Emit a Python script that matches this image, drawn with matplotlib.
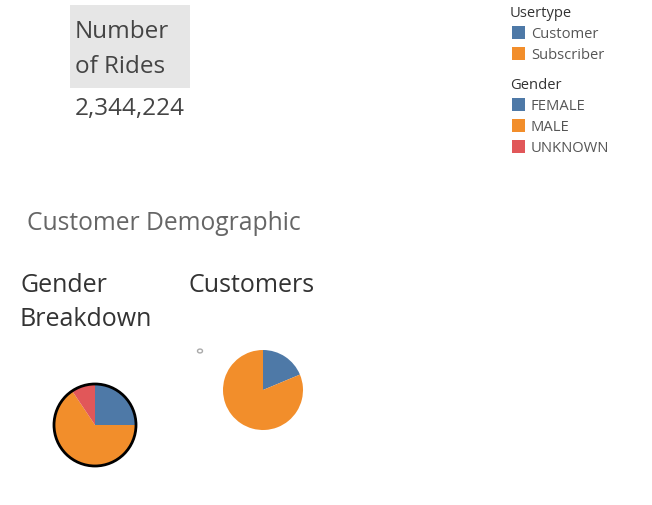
import matplotlib
matplotlib.use("Agg")
import matplotlib.pyplot as plt
from matplotlib.patches import Rectangle, Circle

W, H = 652, 505
plt.rcParams['font.family'] = ['Open Sans', 'DejaVu Sans']

total_rides = 2344224
usertype_labels = ["Customer", "Subscriber"]
usertype_shares = [18.7, 81.3]
gender_labels = ["FEMALE", "MALE", "UNKNOWN"]
gender_shares = [25.0, 65.6, 9.4]
colors_user = ["#4e79a7", "#f28e2b"]
colors_gender = ["#4e79a7", "#f28e2b", "#e15759"]

fig = plt.figure(figsize=(W / 100, H / 100), dpi=100)
fig.patch.set_facecolor("white")

def fx(x):
    return x / W

def fy(y):
    return 1 - y / H

def txt(x, y, s, size, color):
    fig.text(fx(x), fy(y), s, fontsize=size, color=color, va="baseline", ha="left")

# Number of rides box
fig.patches.append(Rectangle((fx(70), fy(88)), fx(190) - fx(70), fy(5) - fy(88),
                             transform=fig.transFigure, facecolor="#e6e6e6",
                             edgecolor="none", zorder=0))
txt(75, 38, "Number", 17.5, "#444444")
txt(75, 73, "of Rides", 17.5, "#444444")
txt(75, 115, f"{total_rides:,}", 17.5, "#444444")

# Legend
lx_sq, lx_txt = 512, 531
txt(510, 17, "Usertype", 10.6, "#333333")
for lab, col, y in zip(usertype_labels, colors_user, [38, 59]):
    fig.patches.append(Rectangle((fx(lx_sq), fy(y + 1)), fx(13), 13 / H,
                                 transform=fig.transFigure, facecolor=col, edgecolor="none"))
    txt(lx_txt, y, lab, 10.6, "#555555")
txt(510, 89, "Gender", 10.6, "#333333")
for lab, col, y in zip(gender_labels, colors_gender, [110, 131, 152]):
    fig.patches.append(Rectangle((fx(lx_sq), fy(y + 1)), fx(13), 13 / H,
                                 transform=fig.transFigure, facecolor=col, edgecolor="none"))
    txt(lx_txt, y, lab, 10.6, "#555555")

# Titles
txt(27, 230, "Customer Demographic", 17.7, "#666666")
txt(20, 292, "Gender", 18, "#333333")
txt(20, 326, "Breakdown", 18, "#333333")
txt(188, 292, "Customers", 18, "#333333")

# small marker
fig.patches.append(Circle((fx(200), fy(351)), 2.5 / W, transform=fig.transFigure,
                          facecolor="white", edgecolor="#aaaaaa", lw=1))

def pie_axes(cx, cy, r):
    size = 2 * r + 6
    ax = fig.add_axes([fx(cx - size / 2), fy(cy + size / 2), size / W, size / H])
    ax.set_aspect("equal")
    ax.axis("off")
    return ax

ax1 = pie_axes(95, 425, 41)
ax1.pie(gender_shares, colors=colors_gender, startangle=90, counterclock=False, radius=41,
        wedgeprops=dict(linewidth=0))
ax1.add_patch(Circle((0, 0), 41, facecolor="none", edgecolor="black", lw=2))
ax1.set_xlim(-44, 44); ax1.set_ylim(-44, 44)

ax2 = pie_axes(263, 390, 40)
ax2.pie(usertype_shares, colors=colors_user, startangle=90, counterclock=False, radius=40,
        wedgeprops=dict(linewidth=0))
ax2.set_xlim(-43, 43); ax2.set_ylim(-43, 43)

fig.savefig("out.png", dpi=100, facecolor="white")
